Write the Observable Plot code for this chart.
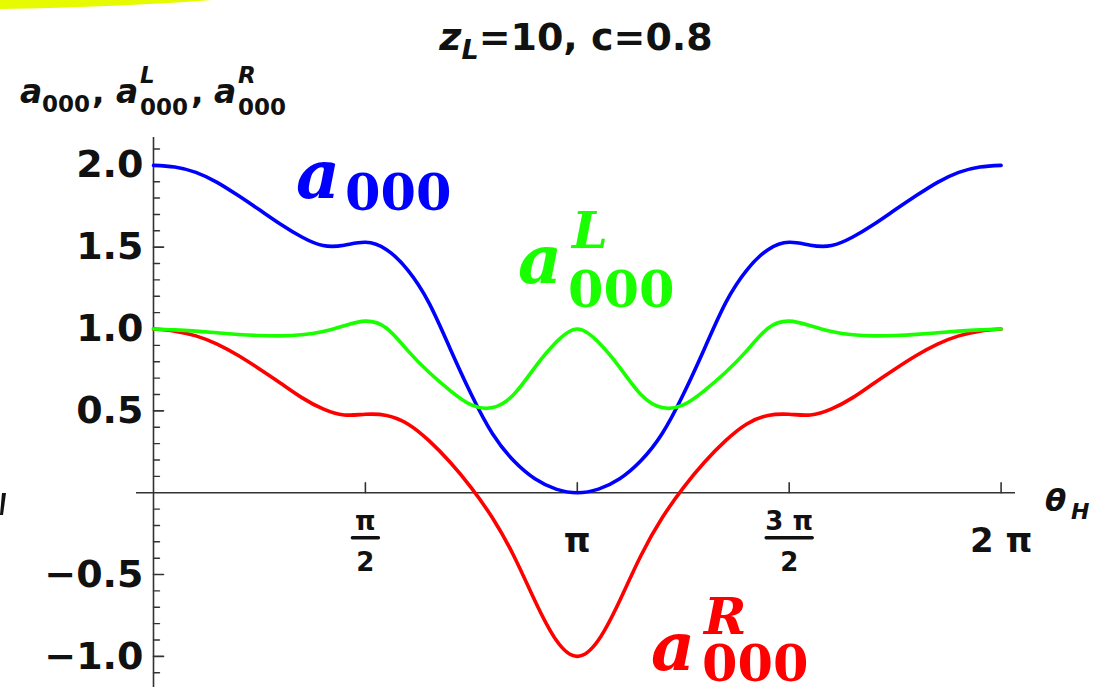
<!DOCTYPE html>
<html><head><meta charset="utf-8">
<script src="https://cdn.jsdelivr.net/npm/d3@7"></script>
<script src="https://cdn.jsdelivr.net/npm/@observablehq/plot@0.6"></script>
<style>html,body{margin:0;padding:0;background:#fff;overflow:hidden}#chart{width:1107px;height:687px}</style>
</head><body><div id="chart"></div>
<script>
// theta_H in units of pi
const thetaPi = [0,0.05,0.1,0.15,0.2,0.25,0.3,0.35,0.4,0.45,0.5,0.55,0.6,0.65,0.7,0.75,0.8,0.85,0.9,0.95,1,
  1.05,1.1,1.15,1.2,1.25,1.3,1.35,1.4,1.45,1.5,1.55,1.6,1.65,1.7,1.75,1.8,1.85,1.9,1.95,2];
const a000 = [2.000,1.990,1.957,1.896,1.815,1.728,1.640,1.562,1.510,1.512,1.530,1.485,1.360,1.160,0.880,0.600,0.360,0.195,0.085,0.022,0.000,
  0.022,0.085,0.195,0.360,0.600,0.880,1.160,1.360,1.485,1.530,1.512,1.510,1.562,1.640,1.728,1.815,1.896,1.957,1.990,2.000];
const a000L = [1.000,0.995,0.987,0.977,0.967,0.960,0.958,0.965,0.985,1.020,1.048,1.005,0.868,0.736,0.624,0.536,0.520,0.600,0.766,0.919,1.000,
  0.919,0.766,0.600,0.520,0.536,0.624,0.736,0.868,1.005,1.048,1.020,0.985,0.965,0.958,0.960,0.967,0.977,0.987,0.995,1.000];
const a000R = [1.000,0.987,0.958,0.908,0.838,0.756,0.669,0.581,0.512,0.475,0.479,0.472,0.420,0.318,0.186,0.030,-0.155,-0.385,-0.660,-0.900,-1.000,
  -0.900,-0.660,-0.385,-0.155,0.030,0.186,0.318,0.420,0.472,0.479,0.475,0.512,0.581,0.669,0.756,0.838,0.908,0.958,0.987,1.000];

const yMajor = [-1, -0.5, 0.5, 1, 1.5, 2];
const yMinor = [-1.1,-0.9,-0.8,-0.7,-0.6,-0.4,-0.3,-0.2,-0.1,0.1,0.2,0.3,0.4,0.6,0.7,0.8,0.9,1.1,1.2,1.3,1.4,1.6,1.7,1.8,1.9,2.1];
const xTicksPi = [0.5, 1, 1.5, 2];
const fracAtPi = [0.5, 1.5];
const fracNum = ["π", "3 π"];
const fracDen = ["2", "2"];
const wholeAtPi = [1, 2];
const wholeLab = ["π", "2 π"];

const rows = thetaPi.map((t, i) => ({x: t * Math.PI, a000: a000[i], aL: a000L[i], aR: a000R[i]}));
const fracRows = fracAtPi.map((t, i) => ({x: t * Math.PI, num: fracNum[i], den: fracDen[i]}));
const wholeRows = wholeAtPi.map((t, i) => ({x: t * Math.PI, lab: wholeLab[i]}));

const lineShape = {draw(ctx, l) { ctx.moveTo(0, 0); ctx.lineTo(0, -l); }};
const axisColor = "#333";
const fmt = d => (d < 0 ? "\u2212" : "") + Math.abs(d).toFixed(1);

const chart = Plot.plot({
  width: 1107, height: 687,
  marginLeft: 136, marginRight: 92, marginTop: 137, marginBottom: 0,
  x: {domain: [-0.126, 6.39], axis: null},
  y: {domain: [-1.19, 2.17], axis: null},
  style: {background: "white", fontFamily: "DejaVu Sans"},
  marks: [
    Plot.ruleY([0], {stroke: axisColor, strokeWidth: 1.6}),
    Plot.ruleX([0], {stroke: axisColor, strokeWidth: 1.6}),
    Plot.vector(yMinor, {x: 0, y: d => d, rotate: 90, length: 6, anchor: "start", shape: lineShape, stroke: axisColor, strokeWidth: 1.4}),
    Plot.vector(yMajor, {x: 0, y: d => d, rotate: 90, length: 10, anchor: "start", shape: lineShape, stroke: axisColor, strokeWidth: 1.6}),
    Plot.vector(xTicksPi, {x: d => d * Math.PI, y: 0, rotate: 0, length: 10, anchor: "start", shape: lineShape, stroke: axisColor, strokeWidth: 1.6}),
    Plot.line(rows, {x: "x", y: "a000", stroke: "#0000ff", strokeWidth: 3.6, curve: "natural"}),
    Plot.line(rows, {x: "x", y: "aR", stroke: "#ff0000", strokeWidth: 3.6, curve: "natural"}),
    Plot.line(rows, {x: "x", y: "aL", stroke: "#1aff00", strokeWidth: 3.6, curve: "natural"}),
    Plot.text(yMajor, {x: 0, y: d => d, text: fmt, textAnchor: "end", dx: -10, fontSize: 38, fontWeight: "bold", fill: "#111"}),
    Plot.text(wholeRows, {x: "x", y: 0, text: "lab", dy: 48, fontSize: 34, fontWeight: "bold", fill: "#111"}),
    Plot.text(fracRows, {x: "x", y: 0, text: "num", dy: 29, fontSize: 26, fontWeight: "bold", fill: "#111"}),
    Plot.text(fracRows, {x: "x", y: 0, text: "den", dy: 70, fontSize: 26, fontWeight: "bold", fill: "#111"}),
    Plot.vector(fracRows.slice(0, 1), {x: "x", y: 0, rotate: 90, length: 26, anchor: "middle", shape: lineShape, dy: 45, stroke: "#111", strokeWidth: 3.5}),
    Plot.vector(fracRows.slice(1), {x: "x", y: 0, rotate: 90, length: 46, anchor: "middle", shape: lineShape, dy: 45, stroke: "#111", strokeWidth: 3.5})
  ]
});
document.getElementById("chart").appendChild(chart);

const svg = d3.select(chart);
const g = svg.append("g");
function txt(x, y, s, o = {}) {
  return g.append("text").attr("x", x).attr("y", y).text(s)
    .attr("font-family", o.family || "DejaVu Sans")
    .attr("font-size", o.size || 30)
    .attr("font-weight", o.weight || "bold")
    .attr("font-style", o.style || "normal")
    .attr("fill", o.fill || "#111")
    .attr("text-anchor", o.anchor || "start");
}
// highlight and edge mark (decoration seen in the reference)
g.append("path").attr("d", "M0,0 L212,0 Q120,7 0,9 Z").attr("fill", "#e6fa00");
g.append("path").attr("d", "M2,493 L6,493 L3,515 L0,515 Z").attr("fill", "#111");

// title
const t = g.append("text").attr("x", 576).attr("y", 50).attr("text-anchor", "middle")
  .attr("font-family", "DejaVu Sans").attr("font-weight", "bold").attr("font-size", 38).attr("fill", "#111");
t.append("tspan").attr("font-style", "italic").text("z");
t.append("tspan").attr("font-style", "italic").attr("font-size", 27).attr("dy", 9).text("L");
t.append("tspan").attr("dy", -9).text("=10, c=0.8");

// y axis label
const ys = {size: 33, style: "italic"};
const ss = {size: 23};
txt(20, 103, "a", ys); txt(42, 112, "000", ss); txt(92, 103, ",", {size: 33});
txt(116, 103, "a", ys); txt(140, 83, "L", {size: 23, style: "italic"}); txt(140, 115, "000", ss); txt(191, 103, ",", {size: 33});
txt(214, 103, "a", ys); txt(238, 83, "R", {size: 23, style: "italic"}); txt(238, 115, "000", ss);

// x axis label
txt(1045, 511, "θ", {size: 31, style: "italic"});
txt(1071, 519, "H", {size: 22, style: "italic"});

// curve labels
const serifA = {family: "DejaVu Serif", size: 68, style: "italic"};
const serifSub = {family: "DejaVu Serif", size: 51};
const serifSup = {family: "DejaVu Serif", size: 51, style: "italic"};
txt(296, 198, "a", {...serifA, fill: "#0000ff"});
txt(345, 210, "000", {...serifSub, fill: "#0000ff"});
txt(518, 283, "a", {...serifA, fill: "#1aff00"});
txt(572, 248, "L", {...serifSup, fill: "#1aff00"});
txt(568, 307, "000", {...serifSub, fill: "#1aff00"});
txt(651, 670, "a", {...serifA, fill: "#ff0000"});
txt(704, 634, "R", {...serifSup, fill: "#ff0000"});
txt(702, 681, "000", {...serifSub, fill: "#ff0000"});
</script></body></html>
